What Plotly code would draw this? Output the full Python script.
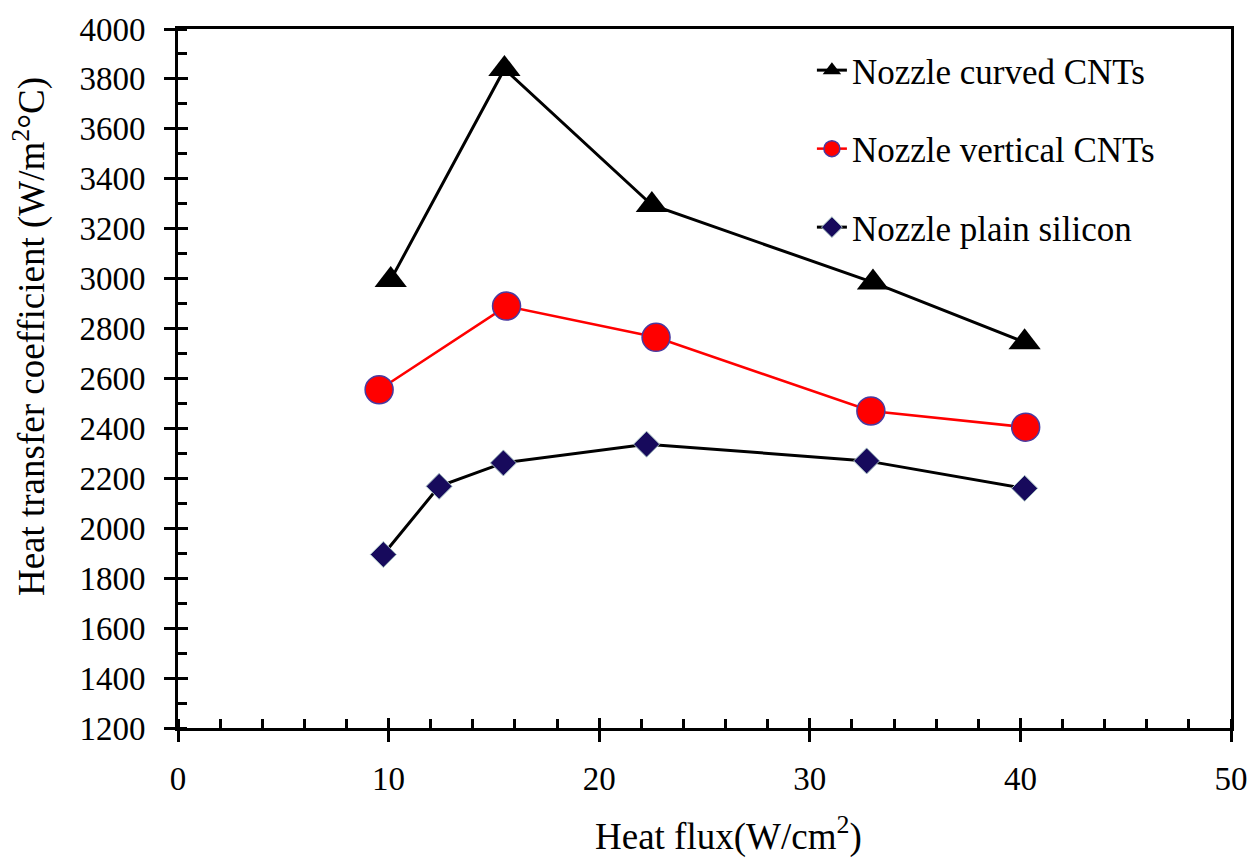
import plotly.graph_objects as go

# Heat flux (W/cm^2) and heat transfer coefficient (W/m^2 °C) per surface
curved_x = [10.1, 15.5, 22.5, 33.0, 40.2]
curved_y = [2995, 3840, 3295, 2985, 2745]

vertical_x = [9.55, 15.6, 22.7, 32.9, 40.25]
vertical_y = [2555, 2890, 2765, 2470, 2405]

plain_x = [9.75, 12.4, 15.45, 22.25, 32.7, 40.2]
plain_y = [1895, 2168, 2262, 2337, 2270, 2160]

names = ["Nozzle curved CNTs", "Nozzle vertical CNTs", "Nozzle plain silicon"]

x_range = [0, 50]
y_range = [1200, 4000]
FONT = "'Liberation Serif', 'Times New Roman', Times, serif"

fig = go.Figure()

fig.add_trace(go.Scatter(
    x=curved_x, y=curved_y, name=names[0], mode="lines+markers",
    line=dict(color="black", width=3),
    marker=dict(symbol="triangle-up", size=28, color="black"),
    legendgroup="a",
))
fig.add_trace(go.Scatter(
    x=vertical_x, y=vertical_y, name=names[1], mode="lines+markers",
    line=dict(color="#ff0000", width=2.5),
    marker=dict(symbol="circle", size=28, color="#ff0000",
                line=dict(color="#4a3aa0", width=1.5)),
    legendgroup="b",
))
fig.add_trace(go.Scatter(
    x=plain_x, y=plain_y, name=names[2], mode="lines+markers",
    line=dict(color="black", width=3),
    marker=dict(symbol="diamond", size=20, color="#170a5c",
                line=dict(color="#a9c4c4", width=1)),
    legendgroup="c",
))

axis_common = dict(
    showgrid=False, zeroline=False,
    linecolor="black", linewidth=3,
    tickcolor="black", tickwidth=3,
    tickfont=dict(family=FONT, size=33, color="black"),
)

fig.update_layout(
    width=1260, height=858,
    margin=dict(l=178, r=26, t=25, b=130),
    paper_bgcolor="white", plot_bgcolor="white",
    font=dict(family=FONT, color="black", size=33),
    showlegend=True,
    legend=dict(
        x=0.602, y=0.983, xanchor="left", yanchor="top",
        bgcolor="rgba(0,0,0,0)", borderwidth=0,
        font=dict(family=FONT, size=35, color="black"),
        traceorder="grouped", tracegroupgap=30,
        itemwidth=30,
    ),
    xaxis=dict(
        range=x_range, dtick=10, tick0=0,
        ticks="outside", ticklen=11,
        minor=dict(dtick=2, ticks="inside", ticklen=9,
                   tickwidth=3, tickcolor="black"),
        mirror=True, showline=True,
        ticklabelstandoff=8,
        **axis_common,
    ),
    yaxis=dict(
        range=y_range, dtick=200, tick0=1200,
        ticks="outside", ticklen=11,
        minor=dict(dtick=100, ticks="inside", ticklen=9,
                   tickwidth=3, tickcolor="black"),
        mirror=True, showline=True,
        ticklabelstandoff=12,
        **axis_common,
    ),
    # Overlaid axes supply the inner half of the crossing major ticks
    xaxis2=dict(
        range=x_range, dtick=10, tick0=0, overlaying="x", anchor="y",
        side="bottom", ticks="inside", ticklen=10, tickwidth=3,
        tickcolor="black", showticklabels=False, showline=False,
        showgrid=False, zeroline=False,
    ),
    yaxis2=dict(
        range=y_range, dtick=200, tick0=1200, overlaying="y", anchor="x",
        side="left", ticks="inside", ticklen=10, tickwidth=3,
        tickcolor="black", showticklabels=False, showline=False,
        showgrid=False, zeroline=False,
    ),
    annotations=[
        dict(text="Heat flux(W/cm<sup>2</sup>)", xref="paper", yref="paper",
             x=0.523, y=-0.152, xanchor="center", yanchor="middle",
             showarrow=False, font=dict(family=FONT, size=37, color="black")),
        dict(text="Heat transfer coefficient (W/m<sup>2</sup>°C)",
             xref="paper", yref="paper", textangle=-90,
             x=-0.141, y=0.56, xanchor="center", yanchor="middle",
             showarrow=False, font=dict(family=FONT, size=37, color="black")),
    ],
)

# Invisible carrier trace so the overlaid axes are drawn
fig.add_trace(go.Scatter(x=[None], y=[None], xaxis="x2", yaxis="y2",
                         showlegend=False, hoverinfo="skip"))

fig.write_html("out.html")
